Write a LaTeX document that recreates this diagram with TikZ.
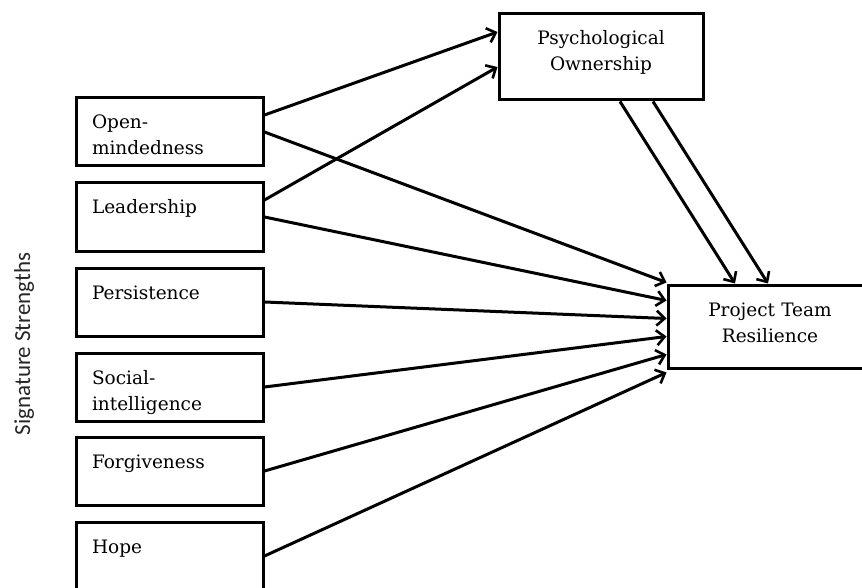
\documentclass[tikz,border=0pt]{standalone}
\usepackage{fontspec}
\setmainfont{DejaVu Serif}
\newfontfamily\labelfont{Carlito}
\usetikzlibrary{arrows.meta}

\tikzset{
  strength/.style={draw,line width=3pt,anchor=center,minimum width=187pt,
    text width=155pt,inner xsep=16pt,inner ysep=0pt,align=left,
    text height=31pt,text depth=37pt,font=\fontsize{18.5}{26}\selectfont},
  outcome/.style={strength,minimum width=204pt,text width=172pt,align=center},
  path/.style={line width=3pt,-{Straight Barb[length=8pt,width=15pt,line width=2.6pt]}}
}

\begin{document}
\begin{tikzpicture}[x=1pt,y=-1pt]

\useasboundingbox (0,0) rectangle (862,588);
\clip (0,0) rectangle (862,588);

% lado esquerdo
\node[rotate=90,text=black!85,font=\labelfont\fontsize{23}{26}\selectfont]
at (24,344) {Signature Strengths};

\node[strength] (open) at (169.5,132) {Open-\\mindedness};
\node[strength] (lead) at (169.5,217) {Leadership};
\node[strength] (pers) at (169.5,302) {Persistence};
\node[strength] (social) at (169.5,387) {Social-\\intelligence};
\node[strength] (forg) at (169.5,471) {Forgiveness};
\node[strength] (hope) at (169.5,556) {Hope};

% mediador e resultado
\node[outcome,text depth=55pt] (own) at (601,57) {Psychological\\Ownership};
\node[outcome,text depth=52pt] (ptr) at (770,326.5) {Project Team\\Resilience};

% setas
\draw[path] ([yshift=17pt]open.east) -- ([yshift=25pt]own.west);
\draw[path] ([yshift=17pt]lead.east) -- ([yshift=-10pt]own.west);

\draw[path] (open.east) -- ([yshift=44pt]ptr.west);
\draw[path] (lead.east) -- ([yshift=26pt]ptr.west);
\draw[path] (pers.east) -- ([yshift=8pt]ptr.west);
\draw[path] (social.east) -- ([yshift=-10pt]ptr.west);
\draw[path] (forg.east) -- ([yshift=-28pt]ptr.west);
\draw[path] (hope.east) -- ([yshift=-46pt]ptr.west);

\draw[path] ([xshift=19pt]own.south) -- ([xshift=-35pt]ptr.north);
\draw[path] ([xshift=52pt]own.south) -- ([xshift=-2pt]ptr.north);

\end{tikzpicture}
\end{document}
